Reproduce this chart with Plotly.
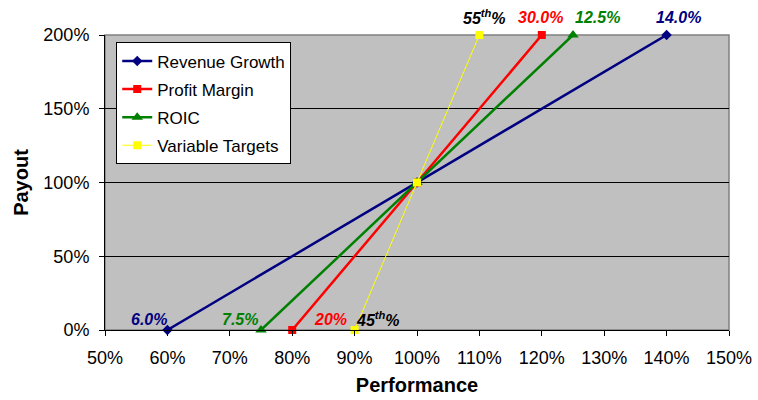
import plotly.graph_objects as go

series_names = ["Revenue Growth", "Profit Margin", "ROIC", "Variable Targets"]
perf_revenue = [0.60, 1.00, 1.40]
perf_profit = [0.80, 1.00, 1.20]
perf_roic = [0.75, 1.00, 1.25]
perf_variable = [0.90, 1.00, 1.10]
payout = [0.0, 1.0, 2.0]

colors = ["#000080", "#FF0000", "#008000", "#FFFF00"]
symbols = ["diamond", "square", "triangle-up", "square"]
widths = [2.5, 2.5, 2.5, 1]
msizes = [8, 8, 10, 8]

top_labels = [("55<sup>th</sup>%", 1.108, "#000000"), ("30.0%", 1.198, "#FF0000"),
              ("12.5%", 1.289, "#008000"), ("14.0%", 1.419, "#000080")]
bottom_labels = [("6.0%", 0.570, "#000080"), ("7.5%", 0.717, "#008000"),
                 ("20%", 0.861, "#FF0000"), ("45<sup>th</sup>%", 0.937, "#000000")]

FONT = "Liberation Sans, Arial, sans-serif"

fig = go.Figure()
for i, xs in enumerate([perf_revenue, perf_profit, perf_roic, perf_variable]):
    fig.add_trace(go.Scatter(
        x=xs, y=payout, mode="lines+markers", name=series_names[i],
        legendgroup=f"g{i}",
        line=dict(color=colors[i], width=widths[i]),
        marker=dict(symbol=symbols[i], size=msizes[i], color=colors[i]),
        cliponaxis=False,
    ))

for txt, xv, col in top_labels:
    fig.add_annotation(x=xv, y=2.0, text=f"<b><i>{txt}</i></b>", showarrow=False,
                       yshift=18, font=dict(color=col, size=16, family=FONT))
for txt, xv, col in bottom_labels:
    fig.add_annotation(x=xv, y=0.0, text=f"<b><i>{txt}</i></b>", showarrow=False,
                       yshift=11, font=dict(color=col, size=16, family=FONT))

fig.update_layout(
    width=758, height=400,
    margin=dict(l=105, r=29, t=35, b=70, autoexpand=False),
    paper_bgcolor="white", plot_bgcolor="#C0C0C0",
    font=dict(family=FONT, color="black", size=18),
    showlegend=True,
    legend=dict(x=0.018, y=0.975, xanchor="left", yanchor="top",
                bgcolor="white", bordercolor="black", borderwidth=1,
                font=dict(size=17, family=FONT), tracegroupgap=3),
    xaxis=dict(range=[0.5, 1.5], dtick=0.1, tickformat=".0%", showgrid=False,
               zeroline=False, ticks="outside", ticklen=5, tickcolor="black",
               showline=True, linecolor="black", linewidth=1, mirror=False,
               ticklabelstandoff=6, automargin=False,
               title=dict(text="<b>Performance</b>", font=dict(size=20, family=FONT), standoff=11),
               tickfont=dict(size=18, family=FONT)),
    yaxis=dict(range=[0, 2], dtick=0.5, tickformat=".0%", showgrid=True,
               gridcolor="black", gridwidth=1, zeroline=False,
               ticks="outside", ticklen=5, tickcolor="black",
               showline=True, linecolor="black", linewidth=1,
               ticklabelstandoff=6, automargin=False,
               title=dict(text="<b>Payout</b>", font=dict(size=20, family=FONT), standoff=9),
               tickfont=dict(size=18, family=FONT)),
)
fig.add_shape(type="rect", xref="paper", yref="paper", x0=0, y0=0, x1=1, y1=1,
              line=dict(color="#808080", width=1.5), layer="below")

fig.write_html("out.html")
